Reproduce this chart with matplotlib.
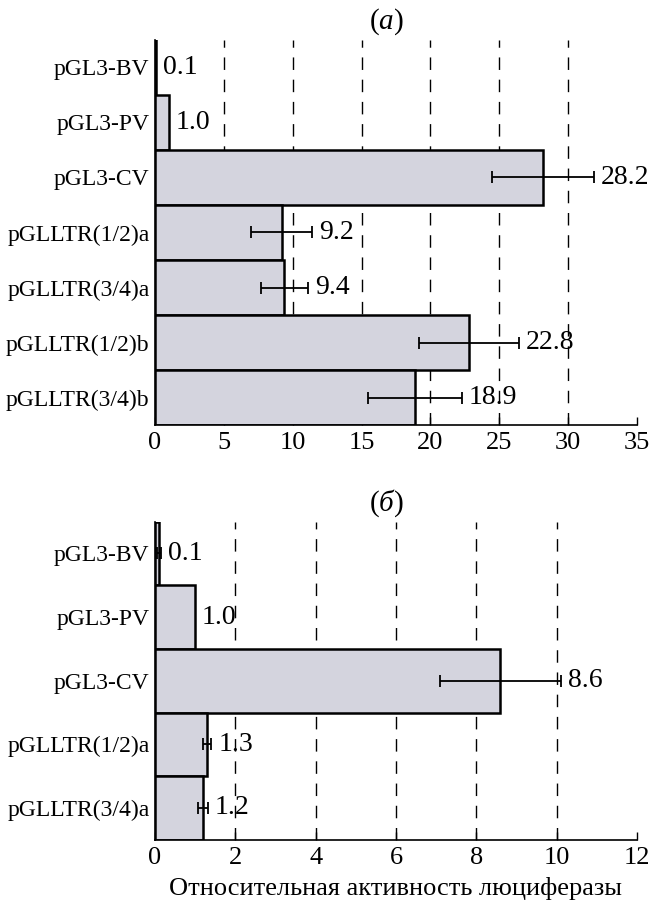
import matplotlib.pyplot as plt

plt.rcParams['font.family'] = ['Liberation Serif', 'DejaVu Serif']
plt.rcParams['mathtext.fontset'] = 'custom'
plt.rcParams['mathtext.it'] = 'Liberation Serif:italic'
plt.rcParams['mathtext.rm'] = 'Liberation Serif'

# panel (a)
names_a = ['pGL3-BV', 'pGL3-PV', 'pGL3-CV', 'pGLLTR(1/2)a', 'pGLLTR(3/4)a',
           'pGLLTR(1/2)b', 'pGLLTR(3/4)b']
vals_a = [0.1, 1.0, 28.2, 9.2, 9.4, 22.8, 18.9]
err_a = [0, 0, 3.7, 2.2, 1.7, 3.6, 3.4]
ticks_a = [0, 5, 10, 15, 20, 25, 30, 35]

# panel (б)
names_b = ['pGL3-BV', 'pGL3-PV', 'pGL3-CV', 'pGLLTR(1/2)a', 'pGLLTR(3/4)a']
vals_b = [0.1, 1.0, 8.6, 1.3, 1.2]
err_b = [0.06, 0, 1.5, 0.1, 0.12]
ticks_b = [0, 2, 4, 6, 8, 10, 12]

bar_color = '#d4d4de'


def draw(ax, names, vals, errs, ticks, title):
    n = len(names)
    pos = list(range(n))
    # dashed verticals behind the bars
    for t in ticks[1:-1]:
        ax.axvline(t, color='black', lw=1.0, dashes=(9, 7), zorder=1)
    ax.barh(pos, vals, height=1.0, color=bar_color, edgecolor='black',
            linewidth=1.8, zorder=2)
    for y, v, e in zip(pos, vals, errs):
        if e > 0:
            ax.errorbar(v, y, xerr=e, fmt='none', ecolor='black',
                        elinewidth=1.3, capsize=4, capthick=1.3, zorder=3)
        ax.annotate(f'{v:.1f}', (v + e, y), xytext=(5, 0),
                    textcoords='offset points', va='center', ha='left',
                    fontsize=20, zorder=4)
    ax.set_ylim(n - 0.5, -0.5)
    ax.set_xlim(ticks[0], ticks[-1])
    ax.set_xticks(ticks)
    ax.set_yticks(pos)
    ax.set_yticklabels(names, fontsize=17)
    ax.tick_params(axis='y', length=0, pad=4)
    ax.tick_params(axis='x', direction='in', length=6, width=1,
                   labelsize=19, pad=5)
    for s in ['top', 'right']:
        ax.spines[s].set_visible(False)
    for s in ['left', 'bottom']:
        ax.spines[s].set_linewidth(1.2)
    ax.set_title(title, fontsize=21, pad=8, x=0.48)


fig = plt.figure(figsize=(6.54, 9.01), dpi=100)
ax1 = fig.add_axes([0.237, 0.528, 0.737, 0.428])
ax2 = fig.add_axes([0.237, 0.068, 0.737, 0.353])

draw(ax1, names_a, vals_a, err_a, ticks_a, r'($\mathit{а}$)')
draw(ax2, names_b, vals_b, err_b, ticks_b, r'($\mathit{б}$)')
ax2.set_xlabel('Относительная активность люциферазы', fontsize=19, labelpad=6)

fig.savefig('out.png', dpi=100)
